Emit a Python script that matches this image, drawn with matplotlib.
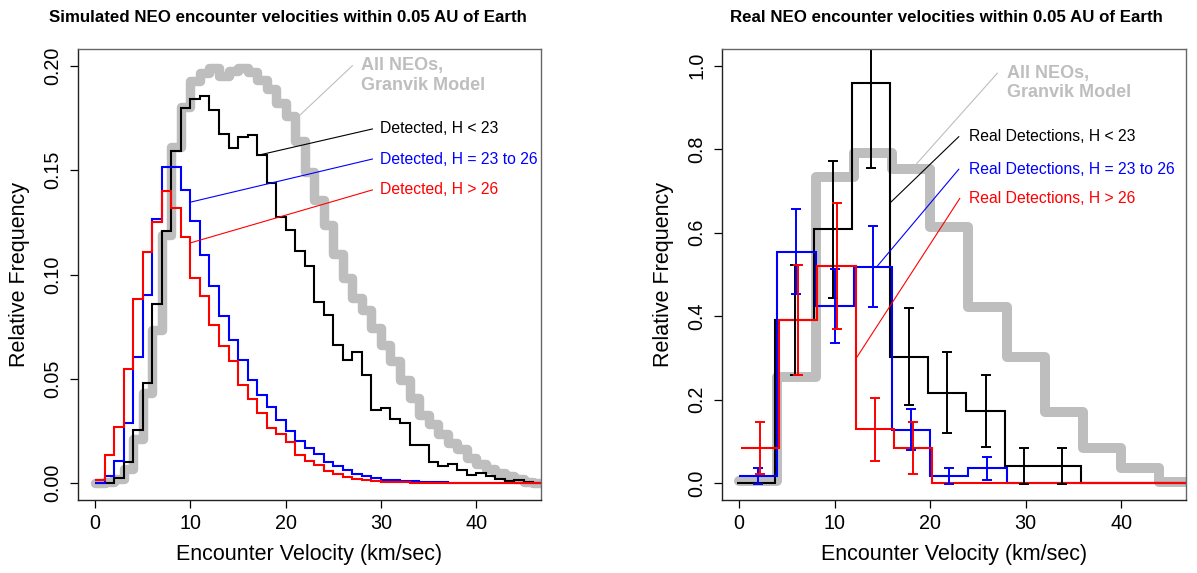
import numpy as np
import matplotlib
matplotlib.use("Agg")
import matplotlib.pyplot as plt

plt.rcParams['font.family'] = ['Liberation Sans', 'DejaVu Sans']

# simulated encounter velocity histograms, 1 km/s bins from 0 to 47
sim_edges = np.arange(0, 48, 1.0)
sim_granvik = [0.0, 0.0005, 0.002, 0.0067, 0.021, 0.0433, 0.0735, 0.119, 0.161, 0.180,
               0.1925, 0.1965, 0.199, 0.195, 0.1975, 0.199, 0.197, 0.193, 0.189, 0.182,
               0.176, 0.164, 0.149, 0.1356, 0.1236, 0.110, 0.0982, 0.0886, 0.083, 0.0743,
               0.0663, 0.0584, 0.0496, 0.0409, 0.0329, 0.0282, 0.0234, 0.0194, 0.0162, 0.0123,
               0.0091, 0.0067, 0.0048, 0.0035, 0.0022, 0.0006, 0.0]
sim_h_lt23 = [0.0, 0.0003, 0.0027, 0.0100, 0.0253, 0.0482, 0.0860, 0.1208, 0.1592, 0.1796,
              0.1840, 0.1857, 0.1790, 0.1674, 0.1607, 0.1660, 0.1666, 0.1570, 0.1440, 0.1276,
              0.1212, 0.1112, 0.1043, 0.0868, 0.0806, 0.0664, 0.0591, 0.0631, 0.0518, 0.0353,
              0.0361, 0.0307, 0.0288, 0.0184, 0.0184, 0.0103, 0.0085, 0.0093, 0.0066, 0.0039,
              0.0050, 0.0034, 0.0021, 0.0009, 0.0018, 0.0005, 0.0003]
sim_h_23_26 = [0.0003, 0.0035, 0.0107, 0.029, 0.0603, 0.0904, 0.1267, 0.1515, 0.1515, 0.1407,
               0.1257, 0.1093, 0.0945, 0.0802, 0.0687, 0.0592, 0.0496, 0.0425, 0.0364, 0.0305,
               0.0250, 0.0202, 0.0167, 0.0140, 0.0104, 0.0081, 0.0064, 0.0043, 0.0035, 0.0024,
               0.0016, 0.0015, 0.0011, 0.0010, 0.0006, 0.0005, 0.0004, 0.0003, 0.0003, 0.0003,
               0.0002, 0.0002, 0.0002, 0.0001, 0.0001, 0.0001, 0.0001]
sim_h_gt26 = [0.0015, 0.0134, 0.0269, 0.0547, 0.0881, 0.1109, 0.1251, 0.1400, 0.1320, 0.1180,
              0.0984, 0.0897, 0.0759, 0.0659, 0.0587, 0.0473, 0.0406, 0.0337, 0.0263, 0.0236,
              0.0196, 0.0134, 0.0106, 0.0088, 0.0060, 0.0044, 0.0032, 0.0022, 0.0016, 0.0011,
              0.0008, 0.0005, 0.0004, 0.0003, 0.0002, 0.0002, 0.0001, 0.0001, 0.0001, 0.0001,
              0.0, 0.0, 0.0, 0.0, 0.0, 0.0, 0.0]

# real detections, 4 km/s bins from 0 to 48
real_edges = np.arange(0, 49, 4.0)
real_granvik = [0.005, 0.255, 0.734, 0.792, 0.752, 0.614, 0.423, 0.303, 0.171, 0.084, 0.036, 0.004]
real_h_lt23 = [0.0, 0.391, 0.608, 0.958, 0.303, 0.217, 0.173, 0.042, 0.042, 0.0, 0.0, 0.0]
real_h_lt23_err = [0.0, 0.131, 0.164, 0.204, 0.116, 0.097, 0.087, 0.043, 0.043, 0.0, 0.0, 0.0]
real_h_23_26 = [0.0175, 0.555, 0.425, 0.519, 0.128, 0.0175, 0.036, 0.0, 0.0, 0.0, 0.0, 0.0]
real_h_23_26_err = [0.018, 0.101, 0.089, 0.098, 0.049, 0.018, 0.027, 0.0, 0.0, 0.0, 0.0, 0.0]
real_h_gt26 = [0.0853, 0.391, 0.521, 0.129, 0.0853, 0.0, 0.0, 0.0, 0.0, 0.0, 0.0, 0.0]
real_h_gt26_err = [0.062, 0.131, 0.151, 0.076, 0.062, 0.0, 0.0, 0.0, 0.0, 0.0, 0.0, 0.0]

GRAY = '#BEBEBE'
TICK_FS = 14.2
LAB_FS = 15.5
NOTE_FS = 11.3


def setup_axes(ax, ylim, yticks, yfmt):
    ax.set_xlim(-1.8, 46.8)
    ax.set_ylim(*ylim)
    ax.set_xticks([0, 10, 20, 30, 40])
    ax.set_yticks(yticks)
    ax.set_yticklabels([yfmt % v for v in yticks], rotation=90, va='center')
    ax.tick_params(direction='out', length=6, width=0.9, labelsize=TICK_FS, pad=4)
    ax.tick_params(axis='y', pad=5)
    for side in ['left', 'bottom']:
        ax.spines[side].set_linewidth(1.0)
        ax.spines[side].set_color('#222222')
    for side in ['top', 'right']:
        ax.spines[side].set_linewidth(1.0)
        ax.spines[side].set_color('#666666')
    ax.set_xlabel('Encounter Velocity (km/sec)', fontsize=LAB_FS, labelpad=8)
    ax.set_ylabel('Relative Frequency', fontsize=LAB_FS, labelpad=10)


def annotate(ax, pts, label, color, textx, size=NOTE_FS, weight='normal'):
    (x0, y0), (x1, y1) = pts
    ax.plot([x0, x1], [y0, y1], color=color, lw=0.8)
    if isinstance(label, tuple):
        for txt, ty in label:
            ax.text(textx, ty, txt, color=color, fontsize=size, fontweight=weight,
                    ha='left', va='center')
    else:
        ax.text(textx, y1, label, color=color, fontsize=size, ha='left', va='center')


fig = plt.figure(figsize=(11.97, 5.73), dpi=100)
W, H = 1197.0, 573.0
ax1 = fig.add_axes([78 / W, 1 - 500 / H, (541 - 78) / W, (500 - 49) / H])
ax2 = fig.add_axes([722 / W, 1 - 500 / H, (1186 - 722) / W, (500 - 49) / H])

# left: simulated
ax1.stairs(sim_granvik, sim_edges, baseline=None, color=GRAY, lw=6.8,
           joinstyle='round', capstyle='round')
ax1.stairs(sim_h_lt23, sim_edges, baseline=None, color='black', lw=1.5)
ax1.stairs(sim_h_23_26, sim_edges, baseline=None, color='blue', lw=1.5)
ax1.stairs(sim_h_gt26, sim_edges, baseline=None, color='red', lw=1.5)
setup_axes(ax1, (-0.008, 0.208), [0, 0.05, 0.10, 0.15, 0.20], '%.2f')

annotate(ax1, [(20.6, 0.1725), (27.0, 0.200)],
         (('All NEOs,', 0.2000), ('Granvik Model', 0.1905)), GRAY, 27.9,
         size=13, weight='bold')
annotate(ax1, [(17.0, 0.157), (29.1, 0.1697)], 'Detected, H < 23', 'black', 29.95)
annotate(ax1, [(10.05, 0.1347), (29.1, 0.1553)], 'Detected, H = 23 to 26', 'blue', 29.95)
annotate(ax1, [(10.05, 0.1152), (29.1, 0.1405)], 'Detected, H > 26', 'red', 29.95)

# right: real detections, each group nudged so error bars don't overlap
ax2.stairs(real_granvik, real_edges, baseline=None, color=GRAY, lw=7.2,
           joinstyle='round', capstyle='round')
centers = (real_edges[:-1] + real_edges[1:]) / 2
for vals, errs, col, dx in [(real_h_lt23, real_h_lt23_err, 'black', -0.2),
                            (real_h_23_26, real_h_23_26_err, 'blue', 0.0),
                            (real_h_gt26, real_h_gt26_err, 'red', 0.2)]:
    ax2.stairs(vals, real_edges + dx, baseline=None, color=col, lw=1.5)
    vals = np.array(vals)
    errs = np.array(errs)
    m = errs > 0
    ax2.errorbar(centers[m] + dx, vals[m], yerr=errs[m], fmt='none', ecolor=col,
                 elinewidth=1.4, capsize=3.6, capthick=1.4)
setup_axes(ax2, (-0.04, 1.04), [0, 0.2, 0.4, 0.6, 0.8, 1.0], '%.1f')

annotate(ax2, [(18.46, 0.762), (27.04, 0.982)],
         (('All NEOs,', 0.982), ('Granvik Model', 0.935)), GRAY, 28.0,
         size=13, weight='bold')
annotate(ax2, [(15.83, 0.672), (23.0, 0.830)], 'Real Detections, H < 23', 'black', 24.06)
annotate(ax2, [(14.43, 0.519), (23.0, 0.752)], 'Real Detections, H = 23 to 26', 'blue', 24.06)
annotate(ax2, [(12.33, 0.302), (23.1, 0.682)], 'Real Detections, H > 26', 'red', 24.06)

fig.text(287.5 / W, 1 - 17 / H, 'Simulated NEO encounter velocities within 0.05 AU of Earth',
         ha='center', va='center', fontsize=12.2, fontweight='bold')
fig.text(946.5 / W, 1 - 17 / H, 'Real NEO encounter velocities within 0.05 AU of Earth',
         ha='center', va='center', fontsize=12.2, fontweight='bold')

fig.savefig('out.png', dpi=100)
